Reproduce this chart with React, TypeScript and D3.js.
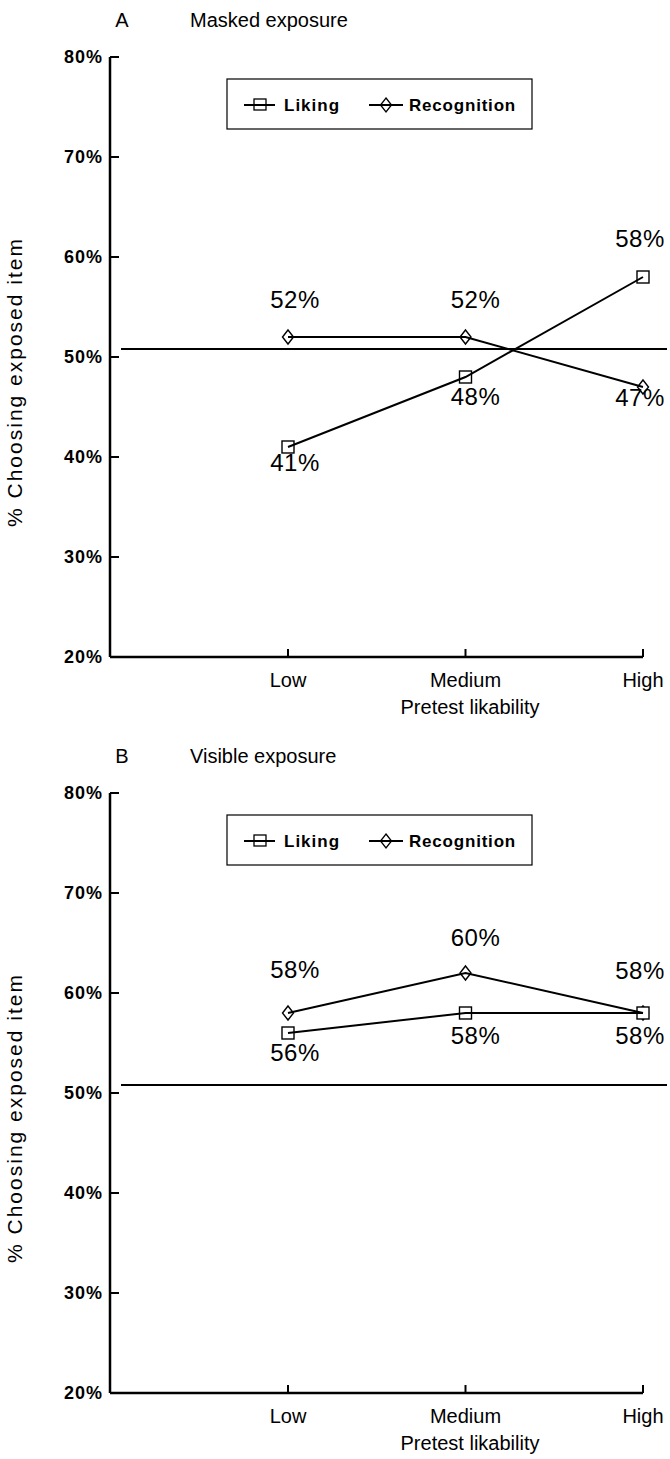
import React from "react";
import * as d3 from "d3";

// categories on the x axis
const categories = ["Low", "Medium", "High"];
const yTicks = [20, 30, 40, 50, 60, 70, 80];
const chanceLevel = 50.8;

// panel A: masked exposure
const likingA = [41, 48, 58];
const recognitionA = [52, 52, 47];
const likingLabelsA = ["41%", "48%", "58%"];
const recognitionLabelsA = ["52%", "52%", "47%"];

// panel B: visible exposure
const likingB = [56, 58, 58];
const recognitionB = [58, 62, 58];
const likingLabelsB = ["56%", "58%", "58%"];
const recognitionLabelsB = ["58%", "60%", "58%"];

const FONT = "'Liberation Sans', Arial, Helvetica, sans-serif";

// label placement (px from the point), hand-tuned like the original
const likingDyA = [16, 20, -38];
const recognitionDyA = [-37, -37, 11];
const likingDyB = [20, 23, 23];
const recognitionDyB = [-43, -35, -42];
const labelDx = [7, 10, -3];

const diamondPath = (cx, cy) =>
  `M${cx},${cy - 7}L${cx + 5.5},${cy}L${cx},${cy + 7}L${cx - 5.5},${cy}Z`;

const Panel = ({ offset, letter, title, liking, recognition, likingLabels, recognitionLabels, likingDy, recognitionDy }) => {
  const axisX = 110;
  const y = d3.scaleLinear().domain([20, 80]).range([657 + offset, 57 + offset]);
  const x = d3.scalePoint().domain(categories).range([288, 643]);
  const line = d3
    .line()
    .x((d, i) => x(categories[i]))
    .y((d) => y(d));

  const legendY = y(80) + 22;
  const legendCy = legendY + 26;

  return (
    <g>
      {/* panel title */}
      <text x={122} y={27 + offset} fontSize={20} textAnchor="middle" fontFamily={FONT}>
        {letter}
      </text>
      <text x={190} y={27 + offset} fontSize={20} fontFamily={FONT}>
        {title}
      </text>

      {/* y axis */}
      <line x1={axisX} x2={axisX} y1={y(80)} y2={y(20)} stroke="#000" strokeWidth={2.5} />
      {yTicks.map((t) => (
        <g key={t}>
          {t !== 20 && (
            <line x1={axisX} x2={axisX + 9} y1={y(t)} y2={y(t)} stroke="#000" strokeWidth={2} />
          )}
          <text
            x={103}
            y={y(t)}
            dy="0.35em"
            textAnchor="end"
            fontSize={18}
            fontWeight="bold"
            letterSpacing={1}
            fontFamily={FONT}
          >
            {t}%
          </text>
        </g>
      ))}
      <text
        transform={`translate(22,${(y(80) + y(20)) / 2 + 25}) rotate(-90)`}
        textAnchor="middle"
        fontSize={21}
        letterSpacing={2}
        fontFamily={FONT}
      >
        % Choosing exposed item
      </text>

      {/* x axis */}
      <line x1={axisX} x2={x("High")} y1={y(20)} y2={y(20)} stroke="#000" strokeWidth={2.5} />
      {categories.map((c) => (
        <g key={c}>
          <line x1={x(c)} x2={x(c)} y1={y(20)} y2={y(20) - 8} stroke="#000" strokeWidth={2} />
          <text x={x(c)} y={y(20) + 23} dy="0.35em" textAnchor="middle" fontSize={20} fontFamily={FONT}>
            {c}
          </text>
        </g>
      ))}
      <text x={470} y={y(20) + 50} dy="0.35em" textAnchor="middle" fontSize={20} fontFamily={FONT}>
        Pretest likability
      </text>

      {/* chance line */}
      <line x1={121} x2={667} y1={y(chanceLevel)} y2={y(chanceLevel)} stroke="#000" strokeWidth={2} />

      {/* legend */}
      <rect x={227} y={legendY} width={305} height={50} fill="#fff" stroke="#000" strokeWidth={1.2} />
      <rect x={254} y={legendCy - 6} width={12} height={11} fill="#fff" stroke="#000" strokeWidth={1.3} />
      <line x1={244} x2={275} y1={legendCy} y2={legendCy} stroke="#000" strokeWidth={2} />
      <text x={284} y={legendCy} dy="0.35em" fontSize={17} fontWeight="bold" letterSpacing={1} fontFamily={FONT}>
        Liking
      </text>
      <path d={diamondPath(386, legendCy)} fill="#fff" stroke="#000" strokeWidth={1.3} />
      <line x1={369} x2={403} y1={legendCy} y2={legendCy} stroke="#000" strokeWidth={2} />
      <text x={409} y={legendCy} dy="0.35em" fontSize={17} fontWeight="bold" letterSpacing={0.8} fontFamily={FONT}>
        Recognition
      </text>

      {/* markers */}
      {recognition.map((v, i) => (
        <path key={"r" + i} d={diamondPath(x(categories[i]), y(v))} fill="#fff" stroke="#000" strokeWidth={1.4} />
      ))}
      {liking.map((v, i) => (
        <rect
          key={"l" + i}
          x={x(categories[i]) - 6}
          y={y(v) - 6}
          width={12}
          height={12}
          fill="#fff"
          stroke="#000"
          strokeWidth={1.4}
        />
      ))}

      {/* series lines, drawn into the marker centres */}
      <path d={line(recognition)} fill="none" stroke="#000" strokeWidth={2} />
      <path d={line(liking)} fill="none" stroke="#000" strokeWidth={2} />

      {/* value labels */}
      {recognitionLabels.map((s, i) => (
        <text
          key={"rl" + i}
          x={x(categories[i]) + labelDx[i]}
          y={y(recognition[i]) + recognitionDy[i]}
          dy="0.35em"
          textAnchor="middle"
          fontSize={24}
          letterSpacing={0.5}
          fontFamily={FONT}
        >
          {s}
        </text>
      ))}
      {likingLabels.map((s, i) => (
        <text
          key={"ll" + i}
          x={x(categories[i]) + labelDx[i]}
          y={y(liking[i]) + likingDy[i]}
          dy="0.35em"
          textAnchor="middle"
          fontSize={24}
          letterSpacing={0.5}
          fontFamily={FONT}
        >
          {s}
        </text>
      ))}
    </g>
  );
};

export default function App() {
  return (
    <svg
      width={670}
      height={1459}
      style={{ position: "absolute", left: 0, top: 0, background: "#fff" }}
    >
      <rect width={670} height={1459} fill="#fff" />
      <Panel
        offset={0}
        letter="A"
        title="Masked exposure"
        liking={likingA}
        recognition={recognitionA}
        likingLabels={likingLabelsA}
        recognitionLabels={recognitionLabelsA}
        likingDy={likingDyA}
        recognitionDy={recognitionDyA}
      />
      <Panel
        offset={736}
        letter="B"
        title="Visible exposure"
        liking={likingB}
        recognition={recognitionB}
        likingLabels={likingLabelsB}
        recognitionLabels={recognitionLabelsB}
        likingDy={likingDyB}
        recognitionDy={recognitionDyB}
      />
    </svg>
  );
}
